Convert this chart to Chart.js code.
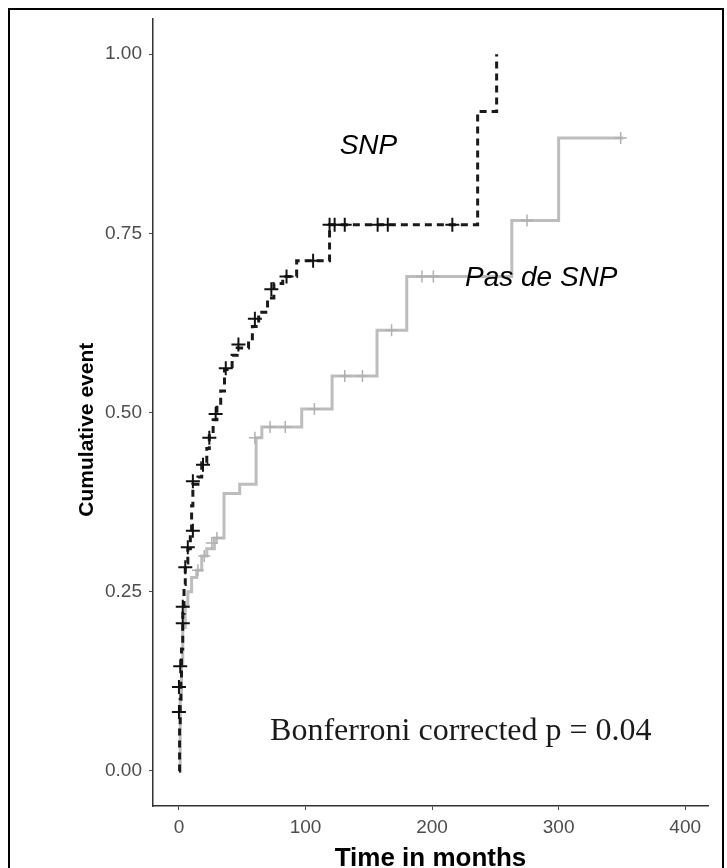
<!DOCTYPE html>
<html>
<head>
<meta charset="utf-8">
<script src="https://cdn.jsdelivr.net/npm/chart.js@4.4.1/dist/chart.umd.min.js"></script>
<style>
  html, body { margin: 0; padding: 0; background: #ffffff; }
  #wrap { position: relative; width: 727px; height: 868px; }
  canvas { display: block; }
</style>
</head>
<body>
<div id="wrap"><canvas id="c" width="727" height="868"></canvas></div>
<script>
// ---- Data (time in months, cumulative event) ----
const snpTimes  = [0, 0.5, 1, 1.5, 2, 3, 4, 5, 7, 9, 10, 11, 15, 18, 22, 24, 27, 30, 33, 36, 42, 46, 55, 58, 63, 70, 75, 82, 93, 119, 236, 251];
const snpValues = [0, 0.06, 0.10, 0.13, 0.17, 0.22, 0.26, 0.29, 0.31, 0.33, 0.37, 0.40, 0.41, 0.43, 0.45, 0.47, 0.49, 0.51, 0.53, 0.56, 0.58, 0.59, 0.60, 0.62, 0.64, 0.66, 0.68, 0.69, 0.712, 0.762, 0.92, 1.00];
const snpCensorTimes  = [0, 0, 1, 3, 3, 5, 7, 11, 11, 19, 24, 29, 37, 47, 60, 73, 85, 106, 119, 123, 131, 157, 165, 216];
const snpCensorValues = [0.082, 0.117, 0.146, 0.206, 0.229, 0.284, 0.312, 0.335, 0.404, 0.427, 0.465, 0.498, 0.562, 0.595, 0.631, 0.672, 0.69, 0.712, 0.762, 0.762, 0.762, 0.762, 0.762, 0.762];

const noSnpTimes  = [0, 1, 2, 3, 5, 7, 10, 14, 18, 22, 28, 35.6, 48, 61, 65.5, 97, 121, 156.5, 180, 263, 300, 351];
const noSnpValues = [0, 0.10, 0.15, 0.20, 0.23, 0.25, 0.27, 0.28, 0.30, 0.31, 0.325, 0.387, 0.40, 0.465, 0.48, 0.505, 0.551, 0.615, 0.69, 0.768, 0.883, 0.883];
const noSnpCensorTimes  = [15, 20, 26, 30, 60, 72, 84, 107, 131, 145, 168, 192, 201, 275, 349];
const noSnpCensorValues = [0.28, 0.30, 0.318, 0.325, 0.465, 0.48, 0.48, 0.505, 0.551, 0.551, 0.615, 0.69, 0.69, 0.768, 0.883];

const xTicks = [0, 100, 200, 300, 400];
const yTicks = [0, 0.25, 0.5, 0.75, 1.0];
const yTickLabels = ['0.00', '0.25', '0.50', '0.75', '1.00'];

const xTitle = 'Time in months';
const yTitle = 'Cumulative event';
const labelSnp = 'SNP';
const labelNoSnp = 'Pas de SNP';
const pText = 'Bonferroni corrected p = 0.04';

// annotation anchors in data units
const snpLabelAt = [127, 0.861];
const noSnpLabelAt = [226, 0.676];
const pTextAt = [72, 0.043];

const pts = (xs, ys) => xs.map((x, i) => ({x: x, y: ys[i]}));

const annotate = {
  id: 'annotate',
  afterDatasetsDraw(chart) {
    const {ctx, scales: {x, y}} = chart;
    ctx.save();
    ctx.fillStyle = '#000';
    ctx.textBaseline = 'alphabetic';
    ctx.textAlign = 'left';
    ctx.font = 'italic 28px "Liberation Sans", Arial, sans-serif';
    ctx.fillText(labelSnp, x.getPixelForValue(snpLabelAt[0]), y.getPixelForValue(snpLabelAt[1]));
    ctx.fillText(labelNoSnp, x.getPixelForValue(noSnpLabelAt[0]), y.getPixelForValue(noSnpLabelAt[1]));
    ctx.font = '32px "Liberation Serif", "Times New Roman", serif';
    ctx.fillStyle = '#1a1a1a';
    ctx.fillText(pText, x.getPixelForValue(pTextAt[0]), y.getPixelForValue(pTextAt[1]));
    ctx.restore();
  },
  afterDraw(chart) {
    const {ctx} = chart;
    ctx.save();
    ctx.strokeStyle = '#000';
    ctx.lineWidth = 2;
    ctx.strokeRect(9, 9, 714, 900);
    ctx.restore();
  }
};

new Chart(document.getElementById('c'), {
  type: 'line',
  data: {
    datasets: [
      {
        data: pts(snpCensorTimes, snpCensorValues),
        showLine: false,
        pointStyle: 'cross',
        pointRadius: 7,
        pointBorderWidth: 2,
        pointBorderColor: '#111',
        pointBackgroundColor: '#111'
      },
      {
        data: pts(snpTimes, snpValues),
        stepped: true,
        borderColor: '#1a1a1a',
        borderWidth: 3,
        borderDash: [7, 5],
        pointRadius: 0,
        fill: false
      },
      {
        data: pts(noSnpCensorTimes, noSnpCensorValues),
        showLine: false,
        pointStyle: 'cross',
        pointRadius: 6,
        pointBorderWidth: 1.5,
        pointBorderColor: '#b0b0b0',
        pointBackgroundColor: '#b0b0b0'
      },
      {
        data: pts(noSnpTimes, noSnpValues),
        stepped: true,
        borderColor: '#bdbdbd',
        borderWidth: 3,
        pointRadius: 0,
        fill: false
      }
    ]
  },
  options: {
    responsive: false,
    animation: false,
    devicePixelRatio: 1,
    layout: { padding: { left: 0, right: 19, top: 16, bottom: 0 } },
    plugins: { legend: { display: false }, tooltip: { enabled: false } },
    scales: {
      x: {
        type: 'linear',
        min: -20.5,
        max: 418,
        afterFit(s) { s.height = 62; },
        afterBuildTicks(s) { s.ticks = xTicks.map(v => ({value: v})); },
        grid: { display: true, drawOnChartArea: false, drawTicks: true, tickLength: 4, color: '#4d4d4d', lineWidth: 1 },
        border: { display: true, color: '#333', width: 1.5 },
        ticks: {
          color: '#4d4d4d',
          padding: 6,
          maxRotation: 0,
          font: { family: '"Liberation Sans", Arial, sans-serif', size: 19 },
          callback: (v) => String(v)
        },
        title: {
          display: true,
          text: xTitle,
          color: '#000',
          font: { family: '"Liberation Sans", Arial, sans-serif', size: 26, weight: 'bold' },
          padding: { top: 0, bottom: -6 }
        }
      },
      y: {
        type: 'linear',
        min: -0.049,
        max: 1.05,
        afterFit(s) { s.width = 153; },
        afterBuildTicks(s) { s.ticks = yTicks.map(v => ({value: v})); },
        grid: { display: true, drawOnChartArea: false, drawTicks: true, tickLength: 4, color: '#4d4d4d', lineWidth: 1 },
        border: { display: true, color: '#333', width: 1.5 },
        ticks: {
          color: '#4d4d4d',
          padding: 7,
          font: { family: '"Liberation Sans", Arial, sans-serif', size: 19 },
          callback: (v) => yTickLabels[yTicks.indexOf(v)]
        },
        title: {
          display: true,
          text: yTitle + '      ',
          color: '#000',
          font: { family: '"Liberation Sans", Arial, sans-serif', size: 21, weight: 'bold' },
          padding: { top: 75, bottom: 0 }
        }
      }
    }
  },
  plugins: [annotate]
});
</script>
</body>
</html>
